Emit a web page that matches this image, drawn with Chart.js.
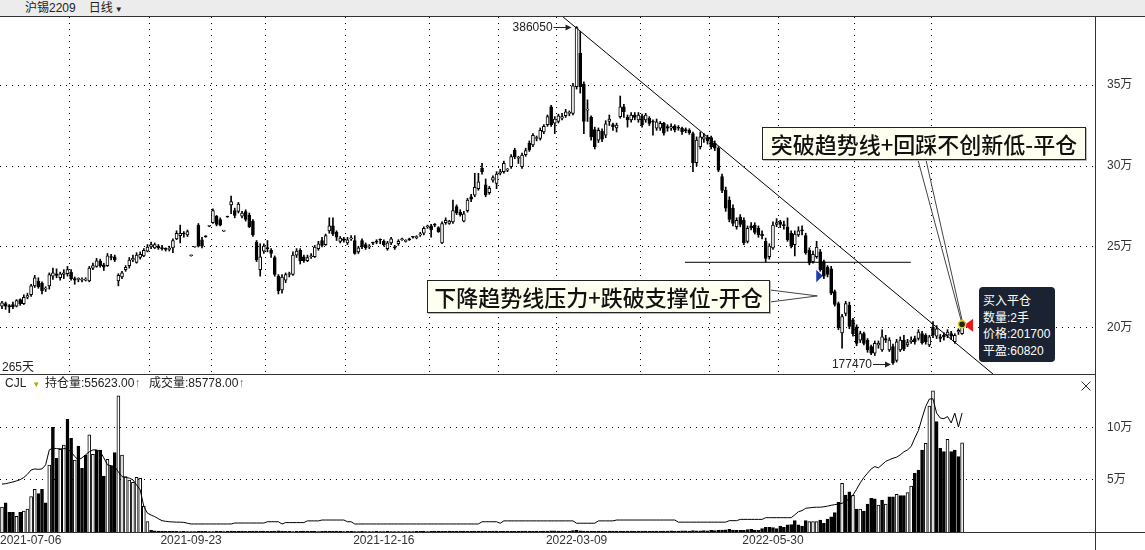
<!DOCTYPE html>
<html>
<head>
<meta charset="utf-8">
<script src="https://cdn.jsdelivr.net/npm/chart.js@4.4.1/dist/chart.umd.min.js"></script>
<style>
  html, body { margin: 0; padding: 0; background: #fff; }
  body { width: 1145px; height: 550px; position: relative; overflow: hidden;
         font-family: 'Liberation Sans', 'Noto Sans CJK SC', sans-serif; color: #222; font-size: 12px; }
  .abs { position: absolute; }
  #head { left: 0; top: 0; width: 1145px; height: 16px; background: #ececec; border-bottom: 1px solid #333; line-height: 16px; }
  .note { background: #fffff0; border: 1px solid #222; box-shadow: 1px 1px 0 #bbb;
          font-family: 'Noto Sans CJK SC', sans-serif; font-size: 22px; font-weight: 500; line-height: 31px; color: #111;
          text-align: center; white-space: nowrap; }
  #tip { left: 979px; top: 287px; width: 72px; height: 69px; background: #1b2231; border-radius: 4px;
         color: #fff; padding: 6px 0 0 4px; line-height: 16.5px; font-size: 12px; }
  .ln { background: #333; }
</style>
</head>
<body>
<div id="head" class="abs"><span style="margin-left:25px">沪锡2209</span><span style="margin-left:13px">日线</span><span style="font-size:8px;margin-left:2px">▼</span></div>
<canvas id="price" class="abs" style="left:0;top:17px" width="1145" height="357"></canvas>
<canvas id="vol" class="abs" style="left:0;top:374px" width="1145" height="176"></canvas>

<div class="abs ln" style="left:1095px;top:17px;width:1px;height:533px"></div>
<div class="abs ln" style="left:0;top:374px;width:1095px;height:1px"></div>
<div class="abs ln" style="left:0;top:532px;width:1145px;height:1px"></div>

<div id="days" class="abs" style="left:2px;top:357px"></div>
<div class="abs" style="left:5px;top:375px;line-height:16px">CJL<span style="color:#b8a800;font-size:8px;margin-left:6px">▼</span></div>
<div id="oiText" class="abs" style="left:45px;top:375px;line-height:16px"></div>
<div id="volText" class="abs" style="left:149px;top:375px;line-height:16px"></div>
<svg class="abs" style="left:1081px;top:381px" width="10" height="10"><path d="M0.5 0.5 L9.5 9.5 M9.5 0.5 L0.5 9.5" stroke="#333" stroke-width="1"/></svg>

<div class="abs note" style="left:762px;top:127px;width:322px;height:31px">突破趋势线+回踩不创新低-平仓</div>
<div class="abs note" style="left:427px;top:280px;width:341px;height:31px">下降趋势线压力+跌破支撑位-开仓</div>
<div id="tip" class="abs">买入平仓<br>数量:2手<br>价格:<span id="tipPrice"></span><br>平盈:60820</div>

<script>
// date ticks and month boundaries (bar indices)
const tickDates = ['2021-07-06', '2021-09-23', '2021-12-16', '2022-03-09', '2022-05-30'];
const tickIdx = [0, 52, 105, 158, 212];
const monthStart = [19, 41, 58, 73, 95, 118, 137, 153, 176, 195, 214, 235, 256];
const priceTicks = [200000, 250000, 300000, 350000];
const volTicks = [50000, 100000];

// daily bars: [open, high, low, close]
const ohlc = [
  [213500,216500,212000,215500],[215000,216000,211500,213500],[213800,214500,209500,213000],[214500,216000,212000,213000],
  [213500,217500,213000,217000],[217500,218000,214000,215000],[215000,220500,214500,219000],[219000,221500,218000,220000],
  [220500,227000,219500,226000],[226000,232500,225000,231000],[229000,231000,224500,225500],[227500,228500,221000,223000],
  [224000,225500,222500,224500],[226000,234000,224000,233000],[232000,237000,230000,234000],[233500,236500,231000,232500],
  [231000,234500,229500,233500],[233000,236000,230500,234000],[233500,238000,232000,236000],[234500,236000,229500,230500],
  [230500,231500,227000,229500],[230000,231000,228500,230000],[229500,231000,228500,230000],[229500,231000,229000,230200],
  [229000,238000,228500,237000],[237000,240000,236000,238500],[238000,243000,237500,241500],[241500,242500,237500,238500],
  [239000,240000,235500,237500],[238500,246000,238000,244500],[244000,245500,242000,243500],[244000,245000,241000,242000],
  [229000,233500,226000,232500],[231500,235000,230500,234000],[236000,238500,235000,237500],[238500,243500,237000,242000],
  [242000,245000,241000,243000],[240500,246500,240000,245000],[243500,247000,242500,245500],[244500,249000,244000,248000],
  [247500,251500,247000,250000],[250000,253000,249000,251500],[249500,252500,249000,251500],[250500,251500,248500,249500],
  [249500,251000,248000,249000],[249000,249500,247500,248500],[248500,250500,247500,249000],[249500,255000,246500,254000],
  [255000,260000,254500,258500],[257000,263500,252500,258500],[258500,259500,256000,258000],[257500,260500,256500,259500],
  [244600,245000,244400,244800],[250000,250300,249800,250100],[263500,264500,250000,250500],[254500,256000,249500,250500],
  [256500,257000,256000,256300],[262800,263200,262500,263000],[265000,273500,264500,272500],[269000,269500,263000,264000],
  [267000,268000,263000,263500],[259800,260200,259600,260000],[268700,269000,268300,268500],[276000,281500,270500,278000],
  [272500,274000,268000,269500],[272000,277500,271000,276500],[269000,272000,268000,271000],[271800,273000,266000,267000],
  [269500,271000,262000,262500],[266000,267000,256500,257500],[253000,254000,241000,242000],[236000,252000,232000,244000],
  [247500,252000,246000,250500],[249500,254000,247000,249000],[248000,249000,243500,246000],[243500,244500,232000,233000],
  [232000,233000,221000,223000],[223500,233000,221500,231500],[229500,234000,228000,233000],[233000,234500,231500,233500],
  [233000,247000,232500,245000],[245000,249000,243500,247500],
  [248000,249000,239500,241500],[244000,245000,240500,241500],[241500,245000,241000,243500],[244000,246000,243000,244500],
  [244000,251000,243500,250000],[249000,253500,248000,252000],[254000,256000,250000,251000],[251500,258000,251000,257000],
  [260000,268000,258500,263000],[263000,268000,257000,258000],[259000,260000,254000,256000],[253500,256500,252500,255500],
  [255000,256000,253000,254000],[252500,256000,251500,254500],[255000,257000,254000,255500],[254000,257000,245500,246000],
  [247000,250500,246000,249500],[254000,255000,249000,250000],[251500,252500,248500,249500],[250000,251500,249000,250500],
  [252500,253000,251500,252300],[253500,254500,252000,253000],[254500,255000,252000,254300],[253500,254500,250500,251500],
  [249000,253500,248000,252500],[252500,256000,251500,255000],[250000,251000,248500,249500],[252000,254500,251000,253500],
  [254500,255500,254000,254700],[253500,254500,253000,253700],[254700,255500,254000,254500],[256200,256500,255500,256000],
  [255800,257000,255000,256000],[257500,259000,256500,258000],[258500,262500,257500,261500],[262500,263500,261500,262700],
  [263000,264000,256000,260500],[263800,264500,262500,263500],[262000,262500,259000,259500],[252500,265500,252000,264500],
  [265000,268000,264000,266500],[264500,266500,264000,266000],[265500,279000,264500,272500],[275000,276000,270000,271000],
  [271500,273000,269000,270000],[266000,272000,265500,270500],[272500,280000,271500,279000],[281000,282500,278000,279500],
  [282000,295500,281000,286800],[286000,295500,285000,290300],[298500,301600,295000,296500],[288300,292000,281000,282100],
  [283500,287500,282500,286200],[291300,294000,290000,292800],[289300,296500,286000,295000],[295500,298000,294500,296500],
  [296500,303000,295500,301600],[297500,298500,296500,297600],[299600,307000,298500,305800],[309900,311000,304500,305800],
  [304800,306000,301600,304800],[299600,308000,298500,306800],
  [307000,311000,306000,309500],[314000,315500,309000,310000],[313000,320000,312000,319000],[317000,318500,315500,317300],
  [317000,323500,316000,322000],[321000,325500,320000,324500],[325500,331500,324500,330500],[336500,337500,324500,325500],
  [326500,330500,320000,329000],[327500,332000,326500,331000],[329500,332500,328500,330500],[331000,335000,330000,333500],
  [332500,334000,331000,332700],[332500,351000,331500,349500],[349000,386050,347500,385500],[369500,383000,345000,349000],
  [350500,352000,320000,327500],[334500,340800,327500,335000],[330000,331000,316000,318000],[322500,324000,310500,312000],
  [316000,323500,314500,322000],[321500,323000,315000,316500],[319000,328000,317500,326000],[327500,331500,325000,329000],
  [325500,326500,322000,324300],[323500,326500,321000,325300],[330500,343200,329500,336500],[336600,338000,330000,333500],
  [330000,331500,324000,328500],[328400,333000,327000,331500],[331500,333000,328500,330000],[328500,333000,327000,331500],
  [330800,332000,324000,325300],[328400,332500,327000,331500],[329400,330500,325000,326300],[327300,328500,319000,327000],
  [323300,329000,322000,327300],[323300,327500,322000,326300],[326300,327000,319000,320200],[324300,325500,321500,323300],
  [323300,326000,322000,324300],[324700,325500,321000,322200],[323800,325000,322000,323300],[323300,324000,319500,321200],
  [322300,323500,320500,321800],[322000,323000,319500,320600],
  [320000,321000,296500,302000],[302000,318000,300000,316000],[312000,321000,310500,318000],[316500,320000,314500,318000],
  [317500,319000,313500,315500],[317500,318500,310500,312000],[314000,315500,309500,311000],[311000,312000,296500,297500],
  [293500,295000,283500,285000],[285000,287000,272000,274000],[279000,281000,265500,267000],[274000,276000,263000,264500],
  [262500,268000,261000,266500],[268500,270000,262500,264000],[266500,268000,251500,252500],[253500,263000,252500,261500],
  [263000,265000,260500,262000],[263500,265000,258000,259000],[261500,263000,256000,257500],[258000,260000,255000,257000],
  [253500,255500,240700,243000],[244000,252000,242500,250500],[249500,265500,248500,263500],[264000,267500,262500,265000],
  [265500,266500,262000,264000],[263500,266000,261000,263200],[262500,268000,253500,254500],[258500,260000,249500,250500],
  [251500,260000,244500,258000],
  [257500,262500,256500,260000],[260500,263000,257500,260000],[257000,258500,245500,246500],[248000,249500,239000,240000],
  [241000,247500,240000,245500],[244000,253500,243000,250000],[247000,248500,235000,236000],[241000,242000,230500,232000],
  [237500,238500,231500,233000],[236500,238000,220500,221500],[222500,223500,213500,214500],[215000,216000,199000,200000],
  [197000,208500,187500,207000],[209000,216500,207500,215000],[214000,216000,199500,201000],[205000,206000,195000,196500],
  [200500,202000,189000,190500],[192500,198000,191000,196500],[196500,197500,189500,190500],[192500,193500,185000,186500],
  [188500,189500,183500,184500],[184500,192000,183000,190500],[189500,192000,187500,190500],[186500,198800,185500,194500],
  [193500,195500,191000,192500],[186500,194000,185500,192500],[188500,190000,177470,178500],[180000,193000,179000,191500],
  [186500,194500,185500,192500],[192500,195500,186000,187000],[189500,193000,188500,191000],[191500,194500,190500,192500],
  [193500,195000,190000,191500],[193500,199000,192500,197500],[196500,198000,190000,191000],[195500,196500,190000,191500],
  [189500,195500,188500,194500],[200500,203900,194000,195500],[195000,201500,193500,199500],[194500,196000,191500,193500],
  [195500,197000,192500,194500],[195500,199000,194000,197500],[196500,198000,193000,195000],[191500,196500,190500,195500],
  [197500,199500,196000,198500],[196500,203000,196000,201700]
];

// volume (成交量)
const volume = [
  24000,28000,19000,19000,15000,19000,20000,22000,34000,41000,37000,41000,28000,
  64400,100600,70800,79500,83600,108300,90100,69200,82700,61200,74000,93300,74700,78800,78800,53800,
  69900,63500,76300,130800,74000,53200,50000,47800,52600,51600,25000,9900,
  1500,1200,900,800,700,600,800,700,500,600,
  400,500,300,600,800,700,500,400,900,700,
  500,600,800,700,600,900,700,600,800,1000,
  900,800,700,600,900,1100,800,700,600,500,
  700,600,800,900,700,600,500,700,800,600,
  700,800,600,500,600,700,500,400,600,500,
  400,500,600,400,500,600,500,400,300,400,
  500,400,500,600,700,600,500,600,800,900,
  700,600,800,700,600,800,900,700,600,800,
  900,1000,800,700,900,800,700,600,800,700,
  600,700,800,900,700,600,800,700,900,1000,
  1200,1100,900,800,700,900,1300,1500,1200,1000,
  900,800,700,800,900,700,800,900,1000,800,
  700,800,900,700,800,900,800,700,900,1000,
  900,800,1000,1100,900,1000,1200,1100,1000,1300,
  1200,1100,1300,1200,1500,1400,1600,1800,
  2200,2500,1800,1600,1500,1700,2400,2600,1900,1700,3200,4500,4600,4200,3200,5800,4500,7000,7200,11000,7000,
  5800,10900,10000,10000,10000,11500,8300,12500,14700,18600,28500,46800,35600,38500,35300,22100,22100,20200,
  26900,32400,32000,26000,30800,26900,33900,33900,36200,35000,35000,37800,44200,56400,59600,78800,85300,
  121100,135600,106100,80500,77200,89100,77200,78800,72400,85778
];

// volume bar fill: u = hollow (up), d = filled (down)
const volDir = [
  'uddduduuuuddd', 'udduudduddduuddd', 'udduuuuuuuuu',
  'dddddddddd', 'dddddddddd', 'dddddddddd', 'dddddddddd', 'dddddddddd', 'dddddddddd',
  'dddddddddd', 'dddddddddd', 'dddddddddd', 'dddddddddd', 'dddddddddd', 'dddddddddd',
  'dddddddddd', 'dddddddddd', 'dddddddddd', 'dddddddddd', 'dddddddddd', 'ddddddddd',
  'dduuu', 'ddddd', 'duddu', 'duddd', 'dudud', 'duddu', 'udddu', 'uuddd', 'udddu'
].join('');

// open interest (持仓量)
const openInt = [
  22400,22600,23000,23400,23900,24500,25500,27000,29000,29500,
  29300,29500,31400,38400,39200,39000,38900,39000,38900,37500,
  35300,33700,34700,36100,37500,38400,38400,37600,34700,31400,
  31000,30600,28100,25900,25500,25200,24400,22000,19700,11900,
  8800,7900,7200,6200,5300,5000,4800,4700,4600,4600,
  4500,4100,3750,3750,3750,3750,3750,3750,3750,3750,
  3750,3750,3750,3750,4200,4200,4200,4200,4200,4200,
  4200,4200,4200,4800,4800,4800,4800,3750,4400,4400,
  4400,4400,4400,4400,5200,5200,5200,5200,5600,5600,
  5600,5600,5600,5600,5600,4800,4800,3750,3750,3750,
  3750,3750,3750,3750,3750,3750,3750,3750,3750,3750,
  3750,3750,3750,3750,3750,3750,3750,3750,3750,3750,
  3750,3750,3750,3750,3750,3750,3750,3750,3750,3750,
  3750,3750,4800,4800,4800,4800,4800,4100,5200,5200,
  5200,5200,5200,5200,5200,5200,5200,5200,5200,5200,
  5200,5200,5200,5200,5200,5200,5200,5200,4100,4100,
  4100,4100,4100,4100,5200,5200,5200,5200,5200,5600,
  5600,5600,5600,5600,5600,5600,5600,5600,5600,5600,
  5600,5600,5600,5600,5600,5600,4600,4600,4600,4600,
  4600,4600,4600,4600,4600,4600,4600,4600,4600,4600,
  5300,5300,5300,5900,5900,5900,5900,5900,5900,5900,
  6700,6700,6700,6700,6700,6700,6700,6700,8000,9500,
  10000,11100,11300,11500,11600,11600,11800,12100,12500,12800,
  13100,13400,14500,15500,17300,20000,23000,25500,27500,29500,
  30600,30000,31500,33000,33800,34500,35000,36100,37500,38400,
  40000,44000,47500,53300,58700,62200,62300,55600,53300,53000,
  54000,51000,55600,49100,55623
];

// drawn lines and signals, in [bar index, price]
const trendLine = [[154.3, 391980], [272.5, 171600]];
const supportLine = [[187.8, 240560], [249.9, 240560]];
const sellMark = [224.8, 232100];
const sellNoteTip = [224.2, 219800];

const last = ohlc.length - 1;
document.getElementById('days').textContent = ohlc.length + '天';
document.getElementById('oiText').innerHTML = '持仓量:' + openInt[last].toFixed(2) + '<span style="color:#3a7bc8">↑</span>';
document.getElementById('volText').innerHTML = '成交量:' + volume[last].toFixed(2) + '<span style="color:#3a7bc8">↑</span>';
document.getElementById('tipPrice').textContent = ohlc[last][3];

Chart.defaults.font.family = "'Liberation Sans', 'Noto Sans CJK SC', sans-serif";
Chart.defaults.font.size = 12;
Chart.defaults.color = '#333';

const wan = v => (v / 10000) + '万';
const xMin = -0.55, xMax = 300.55;

function xScale(withGrid) {
  return {
    type: 'linear', min: xMin, max: xMax, display: withGrid, offset: false,
    afterBuildTicks: s => { s.ticks = monthStart.map(i => ({ value: i - 0.5 })); },
    ticks: { display: false },
    grid: { color: '#000', lineWidth: 1, drawTicks: false, offset: false },
    border: { display: false, dash: [1, 5] },
    afterFit: s => { s.height = 0; s.paddingLeft = 0; s.paddingRight = 0; }
  };
}

function yScale(min, max, ticks) {
  return {
    position: 'right', min: min, max: max,
    afterBuildTicks: s => { s.ticks = ticks.map(v => ({ value: v })); },
    ticks: { callback: wan, color: '#333', padding: 12 },
    grid: { color: '#000', lineWidth: 1, drawTicks: false },
    border: { display: false, dash: [1, 5] },
    afterFit: s => { s.width = 50; s.paddingTop = 0; s.paddingBottom = 0; }
  };
}

function arrowLabel(ctx, tipX, yy, text) {
  const y0 = Math.round(yy) + 0.5;
  const tail = tipX - 18;
  ctx.beginPath(); ctx.moveTo(tail, y0); ctx.lineTo(tipX - 4, y0); ctx.stroke();
  ctx.beginPath(); ctx.moveTo(tipX, y0); ctx.lineTo(tipX - 6, y0 - 3); ctx.lineTo(tipX - 6, y0 + 3); ctx.closePath(); ctx.fill();
  ctx.fillText(text, tail - 1, y0);
}

const notes = {
  id: 'notes',
  afterDatasetsDraw(chart) {
    const { ctx, scales: { x, y } } = chart;
    const px = v => x.getPixelForValue(v), py = v => y.getPixelForValue(v);
    ctx.save();
    ctx.font = "12px 'Liberation Sans'";
    ctx.fillStyle = '#222'; ctx.strokeStyle = '#222'; ctx.lineWidth = 1;
    ctx.textAlign = 'right'; ctx.textBaseline = 'middle';

    let hi = 0, lo = 0;
    ohlc.forEach((d, i) => { if (d[1] > ohlc[hi][1]) hi = i; if (d[2] < ohlc[lo][2]) lo = i; });
    arrowLabel(ctx, px(hi) - 5, py(ohlc[hi][1]), String(ohlc[hi][1]));
    arrowLabel(ctx, px(lo) - 2, py(ohlc[lo][2]), String(ohlc[lo][2]));

    // callout pointers (box edges are page pixels minus canvas top 17)
    const lx = px(last), ly = py(ohlc[last][3]);
    ctx.strokeStyle = '#444';
    ctx.beginPath(); ctx.moveTo(918, 143); ctx.lineTo(lx - 1, ly - 5); ctx.stroke();
    ctx.beginPath(); ctx.moveTo(926, 143); ctx.lineTo(lx, ly - 5); ctx.stroke();
    const tx = px(sellNoteTip[0]), ty = py(sellNoteTip[1]);
    ctx.beginPath(); ctx.moveTo(770, 273); ctx.lineTo(tx, ty); ctx.lineTo(770, 285); ctx.stroke();

    // open short signal
    const bx = px(sellMark[0]), by = py(sellMark[1]);
    ctx.fillStyle = '#1c3ca8';
    ctx.beginPath(); ctx.moveTo(bx - 3.3, by - 6.3); ctx.lineTo(bx + 3.3, by); ctx.lineTo(bx - 3.3, by + 6.3); ctx.closePath(); ctx.fill();

    // close signal
    ctx.fillStyle = '#ee1515';
    ctx.beginPath(); ctx.moveTo(lx + 2, ly); ctx.lineTo(lx + 11, ly - 6.5); ctx.lineTo(lx + 11, ly + 6.5); ctx.closePath(); ctx.fill();
    ctx.beginPath(); ctx.arc(lx, ly - 1, 3.6, 0, Math.PI * 2);
    ctx.fillStyle = '#222'; ctx.fill();
    ctx.lineWidth = 1.6; ctx.strokeStyle = '#d6d21c'; ctx.stroke();
    ctx.restore();
  }
};

const dateLabels = {
  id: 'dateLabels',
  afterDraw(chart) {
    const { ctx, scales: { x }, chartArea } = chart;
    ctx.save();
    ctx.font = "12px 'Liberation Sans'";
    ctx.fillStyle = '#333'; ctx.textAlign = 'center'; ctx.textBaseline = 'middle';
    tickIdx.forEach((idx, k) => {
      const w = ctx.measureText(tickDates[k]).width;
      const cx = Math.max(x.getPixelForValue(idx), w / 2);
      ctx.fillText(tickDates[k], cx, chartArea.bottom + 9);
    });
    ctx.restore();
  }
};

const common = {
  responsive: false, animation: false, events: [],
  layout: { padding: 0 },
  plugins: { legend: { display: false }, tooltip: { enabled: false } }
};

new Chart(document.getElementById('price'), {
  type: 'bar',
  data: {
    datasets: [
      { type: 'line', data: trendLine.map(p => ({ x: p[0], y: p[1] })), borderColor: '#000', borderWidth: 1, pointRadius: 0, order: 0 },
      { type: 'line', data: supportLine.map(p => ({ x: p[0], y: p[1] })), borderColor: '#000', borderWidth: 1, pointRadius: 0, order: 0 },
      { data: ohlc.map((d, i) => ({ x: i, y: [d[0], d[3]] })),
        backgroundColor: ohlc.map(d => d[3] >= d[0] ? '#fff' : '#000'),
        borderColor: '#000', borderWidth: 1, borderSkipped: false, barThickness: 3, grouped: false, minBarLength: 1, order: 1 },
      { data: ohlc.map((d, i) => ({ x: i, y: [d[2], d[1]] })),
        backgroundColor: '#000', borderWidth: 0, barThickness: 1, grouped: false, order: 2 }
    ]
  },
  options: Object.assign({}, common, {
    scales: { x: xScale(true), y: yScale(171600, 391980, priceTicks) }
  }),
  plugins: [notes]
});

new Chart(document.getElementById('vol'), {
  type: 'bar',
  data: {
    datasets: [
      { type: 'line', data: openInt.map((v, i) => ({ x: i, y: v })), yAxisID: 'yOI',
        borderColor: '#000', borderWidth: 1, pointRadius: 0, order: 0 },
      { data: volume.map((v, i) => ({ x: i, y: v })),
        backgroundColor: volume.map((v, i) => volDir[i] === 'u' ? '#fff' : '#000'),
        borderColor: '#000', borderWidth: 1, barThickness: 3, grouped: false, order: 1 }
    ]
  },
  options: Object.assign({}, common, {
    layout: { padding: { bottom: 18 } },
    scales: {
      x: xScale(false),
      y: yScale(0, 151900, volTicks),
      yOI: { display: false, min: 0, max: 73900 }
    }
  }),
  plugins: [dateLabels]
});
</script>
</body>
</html>
